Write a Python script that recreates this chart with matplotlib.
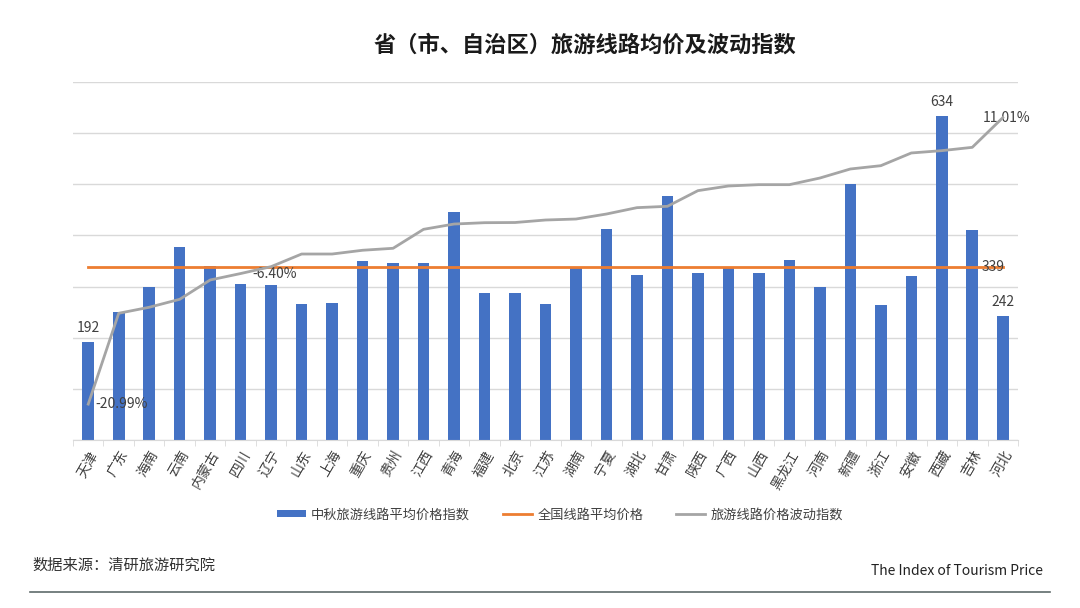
import matplotlib
matplotlib.use("Agg")
import matplotlib.pyplot as plt
import numpy as np
from matplotlib.patches import Patch
from matplotlib.lines import Line2D

plt.rcParams['font.family'] = ['Noto Sans CJK SC', 'DejaVu Sans']

provinces = ['天津', '广东', '海南', '云南', '内蒙古', '四川', '辽宁', '山东', '上海', '重庆',
             '贵州', '江西', '青海', '福建', '北京', '江苏', '湖南', '宁夏', '湖北', '甘肃',
             '陕西', '广西', '山西', '黑龙江', '河南', '新疆', '浙江', '安徽', '西藏', '吉林', '河北']
price_index = [192, 251, 299, 378, 340, 306, 304, 266, 268, 350,
               347, 346, 445, 287, 287, 266, 338, 412, 322, 478,
               327, 338, 326, 352, 299, 501, 264, 320, 634, 410, 242]
national_avg = 339
fluctuation = [-20.99, -10.84, -10.17, -9.28, -7.12, -6.40, -5.63, -4.22, -4.22, -3.80,
               -3.58, -1.46, -0.87, -0.72, -0.70, -0.42, -0.31, 0.25, 0.96, 1.11,
               2.86, 3.38, 3.53, 3.53, 4.27, 5.28, 5.65, 7.07, 7.33, 7.70, 11.01]

bar_color = '#4472C4'
orange = '#ED7D31'
gray = '#A5A5A5'
text_color = '#404040'

W, H = 1080, 608
fig = plt.figure(figsize=(W / 100, H / 100), dpi=100)
ax = fig.add_axes([73 / W, 1 - 440 / H, (1018 - 73) / W, (440 - 82) / H])
ax2 = ax.twinx()

x = np.arange(len(provinces))
ax.bar(x, price_index, width=0.38, color=bar_color, zorder=2)
ax.plot(x, [national_avg] * len(x), color=orange, lw=2, zorder=3)
ax.set_xlim(-0.5, len(x) - 0.5)
ax.set_ylim(0, 700)
ax.set_yticks(np.arange(0, 701, 100))
ax.yaxis.grid(True, color='#D9D9D9', lw=1, zorder=0)
ax.tick_params(axis='y', which='both', left=False, right=False, labelleft=False, labelright=False)
for s in ['top', 'right', 'left']:
    ax.spines[s].set_visible(False)
ax.spines['bottom'].set_color('#D9D9D9')
ax.set_xticks(x)
ax.set_xticks(np.arange(-0.5, len(x), 1), minor=True)
ax.tick_params(axis='x', which='major', length=0, pad=6)
ax.tick_params(axis='x', which='minor', length=4, color='#D9D9D9')
ax.set_xticklabels(provinces, rotation=60, ha='right', va='top', rotation_mode='anchor',
                   fontsize=10, color=text_color)

# bar value labels
for i in [0, 28, 30]:
    ax.text(x[i], price_index[i] + 14, str(price_index[i]), ha='center', va='bottom',
            fontsize=10, color=text_color)
ax.text(x[-1] - 0.3, national_avg, str(national_avg), ha='center', va='center',
        fontsize=10, color=text_color, zorder=5)

ax2.plot(x, fluctuation, color=gray, lw=2, zorder=4)
ax2.set_ylim(-25, 15)
ax2.axis('off')
ax2.text(x[0] + 0.25, fluctuation[0], '-20.99%', ha='left', va='center', fontsize=10, color=text_color)
ax2.text(x[5] + 0.4, fluctuation[5], '-6.40%', ha='left', va='center', fontsize=10, color=text_color)
ax2.text(x[-1] - 0.65, fluctuation[-1], '11.01%', ha='left', va='center', fontsize=10, color=text_color)

fig.text(585 / W, 1 - 45 / H, '省（市、自治区）旅游线路均价及波动指数', ha='center', va='center',
         fontsize=16, fontweight='bold', color='#1a1a1a')

handles = [Patch(facecolor=bar_color, edgecolor='none'),
           Line2D([0], [0], color=orange, lw=2),
           Line2D([0], [0], color=gray, lw=2)]
labels = ['中秋旅游线路平均价格指数', '全国线路平均价格', '旅游线路价格波动指数']
fig.legend(handles, labels, loc='center', bbox_to_anchor=(560 / W, 1 - 515 / H), ncol=3,
           frameon=False, fontsize=9.5, handlelength=2.2, handleheight=0.4, columnspacing=2.5,
           handletextpad=0.4, labelcolor=text_color)

fig.text(32 / W, 1 - 565 / H, '数据来源：清研旅游研究院', ha='left', va='center', fontsize=11, color='#333333')
fig.text(1043 / W, 1 - 571 / H, 'The Index of Tourism Price', ha='right', va='center', fontsize=10, color='#222222')
fig.add_artist(Line2D([30 / W, 1050 / W], [1 - 592 / H, 1 - 592 / H], color='#5f6b6b', lw=1.2))

fig.savefig('out.png', dpi=100)
